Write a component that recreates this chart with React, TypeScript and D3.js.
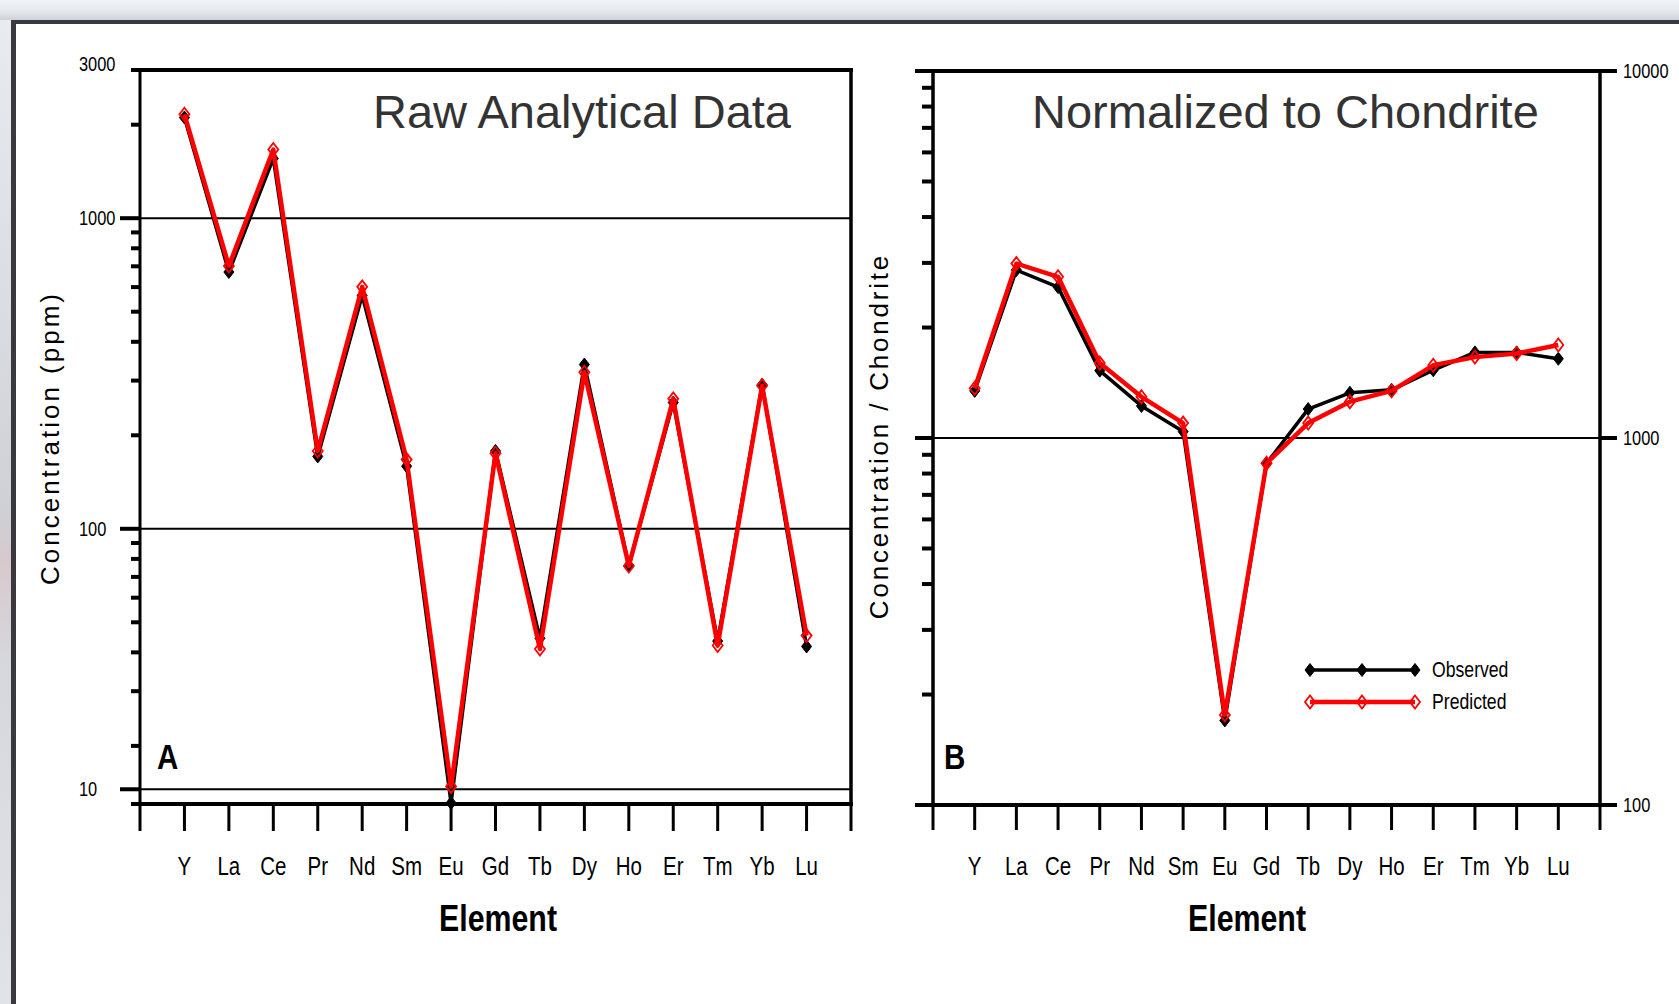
import * as d3 from "d3";
import type { ReactNode } from "react";

// REE pattern, two panels: raw ppm and chondrite-normalized
const elements = ["Y", "La", "Ce", "Pr", "Nd", "Sm", "Eu", "Gd", "Tb", "Dy", "Ho", "Er", "Tm", "Yb", "Lu"];

const rawObserved = [2110, 671, 1557, 171, 564, 159, 13.1, 178, 44.4, 338, 76.2, 255, 43.5, 291, 41.8];
const rawPredicted = [2160, 702, 1664, 178, 601, 167, 14.8, 175, 41.0, 319, 75.9, 262, 42.1, 289, 45.3];

const normObserved = [1344, 2869, 2577, 1526, 1223, 1041, 170, 853, 1199, 1328, 1353, 1530, 1711, 1711, 1644];
const normPredicted = [1366, 2987, 2749, 1600, 1295, 1098, 176, 853, 1098, 1256, 1344, 1578, 1661, 1699, 1793];

// panel A axis: the figure's "10" line actually sits at ~14.5 on its own log scale
const rawDomain = [13, 3000];
const rawGridValues = [1000, 100, 14.5];
const rawGridLabels = ["1000", "100", "10"];
const rawTopLabel = "3000";

const normDomain = [100, 10000];
const normTickValues = [10000, 1000, 100];
const normTickLabels = ["10000", "1000", "100"];

const seriesNames = ["Observed", "Predicted"];

const SANS = "'Liberation Sans', Arial, Helvetica, sans-serif";
const W = 1679;
const H = 1004;

const diamond = "M0,-6.5L5,0L0,6.5L-5,0Z";

function minorTicks(lo: number, hi: number) {
    const out: number[] = [];
    for (let dec = 1; dec <= hi; dec *= 10) {
        for (let k = 2; k <= 9; k++) {
            const v = k * dec;
            if (v > lo && v < hi) out.push(v);
        }
    }
    return out;
}

// Arial Narrow look-alike: Liberation Sans squeezed horizontally
function NText({ x, y, size, anchor = "start", bold = false, dy, children }: {
    x: number; y: number; size: number; anchor?: string; bold?: boolean; dy?: string; children: ReactNode;
}) {
    return (
        <text transform={`translate(${x},${y}) scale(0.82,1)`} textAnchor={anchor} dy={dy}
            fontFamily={SANS} fontSize={size} fontWeight={bold ? "bold" : "normal"}>{children}</text>
    );
}

function Series({ xs, ys, observed }: { xs: number[]; ys: number[]; observed: boolean }) {
    const pts = xs.map((x, i) => [x, ys[i]] as [number, number]);
    const line = d3.line();
    return (
        <g>
            <path d={line(pts) || ""} fill="none" stroke={observed ? "#000" : "#ff0000"}
                strokeWidth={observed ? 3.5 : 4.5} strokeLinejoin="round" />
            {pts.map((p, i) => (
                <path key={i} d={diamond} transform={`translate(${p[0]},${p[1]})`}
                    fill={observed ? "#000" : "none"} stroke={observed ? "#000" : "#ff0000"}
                    strokeWidth={observed ? 1 : 1.8} />
            ))}
        </g>
    );
}

function PanelA() {
    const left = 140, right = 851, top = 70, bottom = 804;
    const x = d3.scaleLinear().domain([0, elements.length + 1]).range([left, right]);
    const y = d3.scaleLog().domain(rawDomain).range([bottom, top]);
    const idx = d3.range(1, elements.length + 1);
    const minors = minorTicks(rawDomain[0], rawDomain[1]).filter(v => !rawGridValues.includes(v));
    return (
        <g>
            {rawGridValues.map((v, i) => (
                <g key={v}>
                    <line x1={left} x2={right} y1={y(v)} y2={y(v)} stroke="#000" strokeWidth={2} />
                    <line x1={120} x2={left} y1={y(v)} y2={y(v)} stroke="#000" strokeWidth={4} />
                    <NText x={79} y={y(v)} dy="0.35em" size={20}>{rawGridLabels[i]}</NText>
                </g>
            ))}
            {minors.map(v => (
                <line key={v} x1={131} x2={left} y1={y(v)} y2={y(v)} stroke="#000" strokeWidth={4} />
            ))}
            <NText x={79} y={y(rawDomain[1]) - 6} dy="0.35em" size={20}>{rawTopLabel}</NText>
            <line x1={131} x2={right + 2} y1={top} y2={top} stroke="#000" strokeWidth={4} />
            <line x1={left} x2={left} y1={top - 2} y2={bottom} stroke="#000" strokeWidth={3} />
            <line x1={right} x2={right} y1={top - 2} y2={bottom} stroke="#000" strokeWidth={3.5} />
            <line x1={131} x2={right + 2} y1={bottom} y2={bottom} stroke="#000" strokeWidth={4} />
            {d3.range(0, elements.length + 2).map(i => (
                <line key={i} x1={x(i)} x2={x(i)} y1={bottom} y2={bottom + 27} stroke="#000" strokeWidth={3} />
            ))}
            {elements.map((e, i) => (
                <NText key={e} x={x(i + 1)} y={875} anchor="middle" size={25}>{e}</NText>
            ))}
            <NText x={498} y={931} anchor="middle" bold size={37}>Element</NText>
            <text x={59} y={438} textAnchor="middle" fontFamily={SANS} fontSize={26} letterSpacing={3}
                transform="rotate(-90,59,438)">Concentration (ppm)</text>
            <text x={373} y={128} fontFamily={SANS} fontSize={47} fill="#333">Raw Analytical Data</text>
            <NText x={157} y={769} bold size={36}>A</NText>
            <Series xs={idx.map(i => x(i))} ys={rawObserved.map(v => y(v))} observed />
            <Series xs={idx.map(i => x(i))} ys={rawPredicted.map(v => y(v))} observed={false} />
        </g>
    );
}

function PanelB() {
    const left = 933, right = 1600, top = 71, bottom = 805;
    const x = d3.scaleLinear().domain([0, elements.length + 1]).range([left, right]);
    const y = d3.scaleLog().domain(normDomain).range([bottom, top]);
    const idx = d3.range(1, elements.length + 1);
    const minors = minorTicks(normDomain[0], normDomain[1]);
    const legendX = [1310, 1362, 1415];
    const legendY = [670, 702];
    return (
        <g>
            <line x1={915} x2={1617} y1={y(1000)} y2={y(1000)} stroke="#000" strokeWidth={2} />
            <line x1={915} x2={left} y1={y(1000)} y2={y(1000)} stroke="#000" strokeWidth={4} />
            {minors.map(v => (
                <line key={v} x1={922} x2={left} y1={y(v)} y2={y(v)} stroke="#000" strokeWidth={4} />
            ))}
            {normTickValues.map((v, i) => (
                <g key={v}>
                    <line x1={right} x2={1617} y1={y(v)} y2={y(v)} stroke="#000" strokeWidth={4} />
                    <NText x={1623} y={y(v)} dy="0.35em" size={20}>{normTickLabels[i]}</NText>
                </g>
            ))}
            <line x1={915} x2={1617} y1={top} y2={top} stroke="#000" strokeWidth={4} />
            <line x1={915} x2={1617} y1={bottom} y2={bottom} stroke="#000" strokeWidth={4} />
            <line x1={left} x2={left} y1={top} y2={bottom} stroke="#000" strokeWidth={3.5} />
            <line x1={right} x2={right} y1={top} y2={bottom} stroke="#000" strokeWidth={3.5} />
            {d3.range(0, elements.length + 2).map(i => (
                <line key={i} x1={x(i)} x2={x(i)} y1={bottom} y2={bottom + 25} stroke="#000" strokeWidth={3} />
            ))}
            {elements.map((e, i) => (
                <NText key={e} x={x(i + 1)} y={875} anchor="middle" size={25}>{e}</NText>
            ))}
            <NText x={1247} y={931} anchor="middle" bold size={37}>Element</NText>
            <text x={888} y={436} textAnchor="middle" fontFamily={SANS} fontSize={26} letterSpacing={2.8}
                transform="rotate(-90,888,436)">Concentration / Chondrite</text>
            <text x={1032} y={128} fontFamily={SANS} fontSize={47} fill="#333">Normalized to Chondrite</text>
            <NText x={944} y={769} bold size={36}>B</NText>
            <Series xs={idx.map(i => x(i))} ys={normObserved.map(v => y(v))} observed />
            <Series xs={idx.map(i => x(i))} ys={normPredicted.map(v => y(v))} observed={false} />
            {seriesNames.map((name, k) => (
                <g key={name}>
                    <Series xs={legendX} ys={legendX.map(() => legendY[k])} observed={k === 0} />
                    <NText x={1432} y={legendY[k] + 7} size={21.5}>{name}</NText>
                </g>
            ))}
        </g>
    );
}

export default function App() {
    return (
        <svg width={W} height={H} style={{ position: "absolute", left: 0, top: 0, background: "#fff" }}>
            <defs>
                <linearGradient id="topStrip" x1="0" y1="0" x2="0" y2="1">
                    <stop offset="0" stopColor="#f1f3f7" />
                    <stop offset="0.6" stopColor="#e5e8ed" />
                    <stop offset="1" stopColor="#cdd1d7" />
                </linearGradient>
                <linearGradient id="leftStrip" x1="0" y1="0" x2="0" y2="1">
                    <stop offset="0" stopColor="#e8ebf0" />
                    <stop offset="0.3" stopColor="#d9dce2" />
                    <stop offset="0.5" stopColor="#cfd0d5" />
                    <stop offset="0.55" stopColor="#d8c9cd" />
                    <stop offset="0.65" stopColor="#d6d7dc" />
                    <stop offset="1" stopColor="#e0e3e8" />
                </linearGradient>
            </defs>
            <rect x={0} y={0} width={W} height={H} fill="#fff" />
            <rect x={0} y={0} width={W} height={20} fill="url(#topStrip)" />
            <rect x={0} y={20} width={11} height={H - 20} fill="url(#leftStrip)" />
            <rect x={11} y={20} width={W - 11} height={4} fill="#3a393e" />
            <rect x={11} y={20} width={5} height={H - 20} fill="#3a393e" />
            <PanelA />
            <PanelB />
        </svg>
    );
}
